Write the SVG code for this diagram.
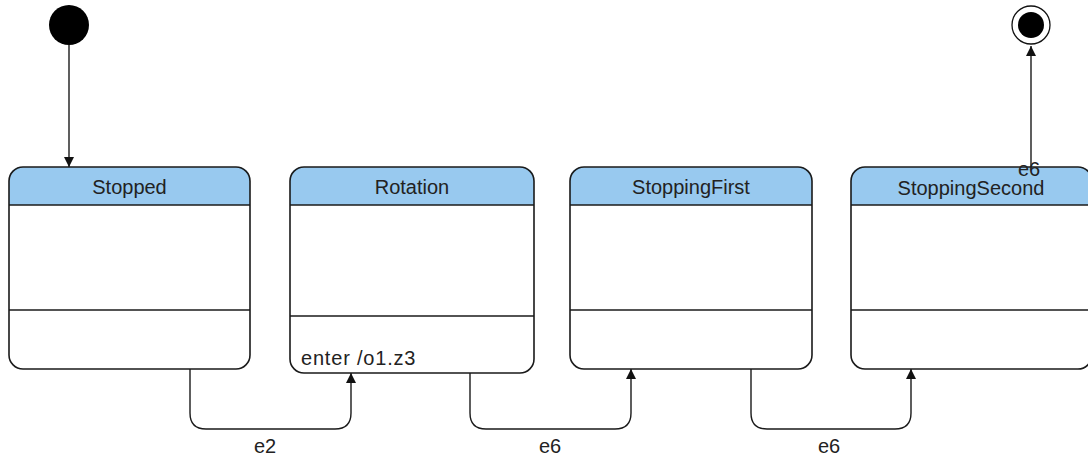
<svg xmlns="http://www.w3.org/2000/svg" width="1088" height="461" viewBox="0 0 1088 461">
<defs>
<marker id="arr" markerUnits="userSpaceOnUse" markerWidth="10" markerHeight="10" refX="10" refY="5" orient="auto">
<path d="M0,0 L10,5 L0,10 Z" fill="#111"/>
</marker>
<style>
.body{fill:#fff;stroke:none}
.head{fill:#98C9EF;stroke:none}
.out{fill:none;stroke:#1a1a1a;stroke-width:1.6}
.div{stroke:#1a1a1a;stroke-width:1.6}
.t{font-family:"Liberation Sans",Arial,sans-serif;font-size:20px;fill:#222}
.c{text-anchor:middle}
.conn{fill:none;stroke:#1a1a1a;stroke-width:1.4}
</style>
</defs>
<rect width="1088" height="461" fill="#fff"/>
<g id="initial"><circle cx="69" cy="25" r="20" fill="#000"/></g>
<g id="final"><circle cx="1031" cy="25" r="19" fill="#fff" stroke="#111" stroke-width="1.3"/><circle cx="1031" cy="25" r="13" fill="#000"/></g>
<g id="Stopped">
<rect class="body" x="9" y="167" width="241" height="202" rx="14"/>
<path class="head" d="M9,205 V181 Q9,167 23,167 H236 Q250,167 250,181 V205 Z"/>
<line class="div" x1="9" y1="205" x2="250" y2="205"/>
<line class="div" x1="9" y1="310" x2="250" y2="310"/>
<rect class="out" x="9" y="167" width="241" height="202" rx="14"/>
<text class="t c" x="129.5" y="194">Stopped</text>
</g>
<g id="Rotation">
<rect class="body" x="290" y="167" width="244" height="206" rx="14"/>
<path class="head" d="M290,205 V181 Q290,167 304,167 H520 Q534,167 534,181 V205 Z"/>
<line class="div" x1="290" y1="205" x2="534" y2="205"/>
<line class="div" x1="290" y1="316" x2="534" y2="316"/>
<rect class="out" x="290" y="167" width="244" height="206" rx="14"/>
<text class="t c" x="412" y="194">Rotation</text>
<text class="t" x="301" y="365" letter-spacing="0.8">enter /o1.z3</text>
</g>
<g id="StoppingFirst">
<rect class="body" x="570" y="167" width="242" height="202" rx="14"/>
<path class="head" d="M570,205 V181 Q570,167 584,167 H798 Q812,167 812,181 V205 Z"/>
<line class="div" x1="570" y1="205" x2="812" y2="205"/>
<line class="div" x1="570" y1="310" x2="812" y2="310"/>
<rect class="out" x="570" y="167" width="242" height="202" rx="14"/>
<text class="t c" x="691" y="194">StoppingFirst</text>
</g>
<g id="StoppingSecond">
<rect class="body" x="851" y="167" width="241" height="202" rx="14"/>
<path class="head" d="M851,205 V181 Q851,167 865,167 H1078 Q1092,167 1092,181 V205 Z"/>
<line class="div" x1="851" y1="205" x2="1092" y2="205"/>
<line class="div" x1="851" y1="310" x2="1092" y2="310"/>
<rect class="out" x="851" y="167" width="241" height="202" rx="14"/>
<text class="t c" x="971" y="195">StoppingSecond</text>
</g>
<g id="connectors">
<path class="conn" d="M69,45 V167" marker-end="url(#arr)"/>
<path class="conn" d="M190,369 V413 Q190,429 206,429 H335 Q351,429 351,413 V373" marker-end="url(#arr)"/>
<path class="conn" d="M470,373 V413 Q470,429 486,429 H615 Q631,429 631,413 V369" marker-end="url(#arr)"/>
<path class="conn" d="M751,369 V413 Q751,429 767,429 H895 Q911,429 911,413 V369" marker-end="url(#arr)"/>
<path class="conn" d="M1031,167 V46" marker-end="url(#arr)"/>
<text class="t" x="1018" y="176" font-size="18">e6</text>
<text class="t" x="254" y="453">e2</text>
<text class="t" x="539" y="453">e6</text>
<text class="t" x="818" y="453">e6</text>
</g>
</svg>
